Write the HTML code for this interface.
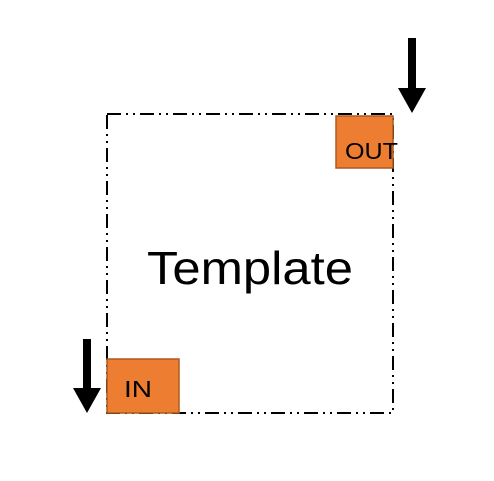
<!DOCTYPE html>
<html><head><style>body{margin:0;background:#fff}</style></head><body>
<svg width="494" height="476" xmlns="http://www.w3.org/2000/svg">
<rect x="107" y="114" width="286" height="299" fill="none" stroke="#000" stroke-width="2" stroke-dasharray="14,5,2,5,2,5"/>
<rect x="336" y="116" width="57" height="52" fill="#ED7D31" stroke="#AE5A21" stroke-width="1.5"/>
<text x="345" y="159" font-family="Liberation Sans, sans-serif" font-size="23" textLength="53" lengthAdjust="spacingAndGlyphs" fill="#000">OUT</text>
<rect x="107" y="359" width="72" height="54" fill="#ED7D31" stroke="#AE5A21" stroke-width="1.5"/>
<text x="124" y="397" font-family="Liberation Sans, sans-serif" font-size="23" textLength="28" lengthAdjust="spacingAndGlyphs" fill="#000">IN</text>
<text x="147" y="284" font-family="Liberation Sans, sans-serif" font-size="46" textLength="206" lengthAdjust="spacingAndGlyphs" fill="#000">Template</text>
<rect x="408" y="38" width="8" height="52" fill="#000"/>
<polygon points="398,88 426,88 412,113" fill="#000"/>
<rect x="83" y="339" width="8" height="52" fill="#000"/>
<polygon points="73,388 101,388 87,413" fill="#000"/>
</svg>
</body></html>
